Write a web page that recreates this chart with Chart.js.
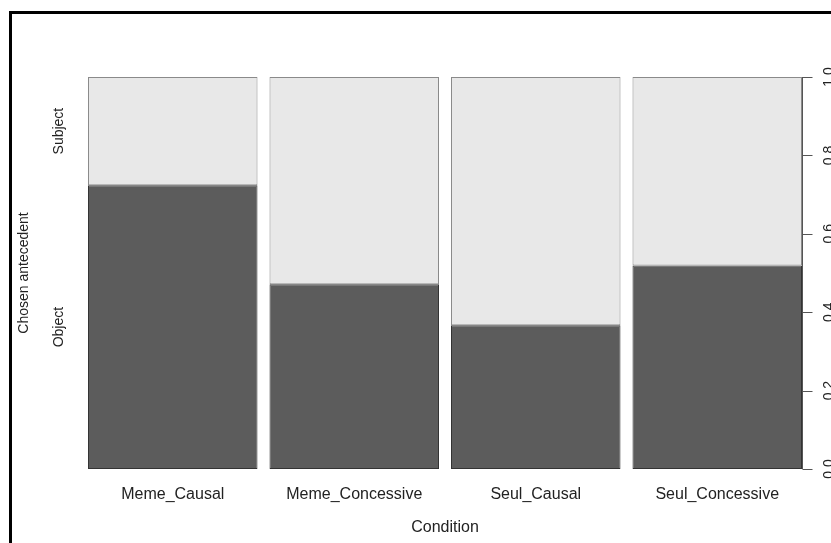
<!DOCTYPE html>
<html>
<head>
<meta charset="utf-8">
<title>Chosen antecedent by condition</title>
<script src="https://cdn.jsdelivr.net/npm/chart.js@4.4.1/dist/chart.umd.min.js"></script>
<style>
    html, body { margin: 0; padding: 0; background: #fff; }
    #wrap { width: 831px; height: 543px; position: relative; }
</style>
</head>
<body>
<div id="wrap"><canvas id="chart" width="831" height="543"></canvas></div>
<script>
// spineplot: share of each chosen antecedent per condition
const conditions = ["Meme_Causal", "Meme_Concessive", "Seul_Causal", "Seul_Concessive"];
const objectShare = [0.724, 0.471, 0.367, 0.519];
const subjectShare = [0.276, 0.529, 0.633, 0.481];
const levelNames = ["Object", "Subject"];
const yTicks = [0, 0.2, 0.4, 0.6, 0.8, 1.0];

const FONT = "'Liberation Sans', Arial, sans-serif";
const TEXT = "#222";
const AXIS = "#555";

// frame, right axis and rotated labels (R style)
const rAxisPlugin = {
    id: "rAxis",
    beforeDraw(chart) {
        const ctx = chart.ctx;
        ctx.save();
        ctx.fillStyle = "#000";
        ctx.fillRect(9, 11, 3, chart.height);
        ctx.fillRect(9, 11, chart.width, 3);
        ctx.restore();
    },
    afterDraw(chart) {
        const ctx = chart.ctx;
        const y = chart.scales.y;
        const bars = chart.getDatasetMeta(0).data;
        const last = bars[bars.length - 1];
        const xr = Math.round(last.x + last.width / 2) + 0.5;

        ctx.save();
        ctx.strokeStyle = AXIS;
        ctx.lineWidth = 1;
        ctx.beginPath();
        ctx.moveTo(xr, y.getPixelForValue(0));
        ctx.lineTo(xr, y.getPixelForValue(1));
        yTicks.forEach(v => {
            const py = Math.round(y.getPixelForValue(v)) + 0.5;
            ctx.moveTo(xr, py);
            ctx.lineTo(xr + 10, py);
        });
        ctx.stroke();

        ctx.fillStyle = TEXT;
        ctx.font = "14px " + FONT;
        ctx.textAlign = "center";
        ctx.textBaseline = "top";
        yTicks.forEach(v => {
            ctx.save();
            ctx.translate(xr + 20, y.getPixelForValue(v));
            ctx.rotate(-Math.PI / 2);
            ctx.fillText(v.toFixed(1), 0, 0);
            ctx.restore();
        });

        // level names, centred on the first bar's segments
        const first = bars[0];
        const x0 = first.x - first.width / 2;
        const objMid = y.getPixelForValue(objectShare[0] / 2);
        const subMid = y.getPixelForValue(objectShare[0] + subjectShare[0] / 2);
        ctx.textBaseline = "middle";
        [[levelNames[0], objMid], [levelNames[1], subMid]].forEach(([t, py]) => {
            ctx.save();
            ctx.translate(x0 - 29, py);
            ctx.rotate(-Math.PI / 2);
            ctx.fillText(t, 0, 0);
            ctx.restore();
        });

        ctx.save();
        ctx.translate(24, (y.top + y.bottom) / 2);
        ctx.rotate(-Math.PI / 2);
        ctx.fillText("Chosen antecedent", 0, 0);
        ctx.restore();
        ctx.restore();
    }
};

new Chart(document.getElementById("chart"), {
    type: "bar",
    data: {
        labels: conditions,
        datasets: [
            {
                label: levelNames[0],
                data: objectShare,
                backgroundColor: "#5c5c5c",
                borderColor: "#333",
                borderWidth: 1,
                borderSkipped: false,
                barPercentage: 0.934,
                categoryPercentage: 1,
            },
            {
                label: levelNames[1],
                data: subjectShare,
                backgroundColor: "#e8e8e8",
                borderColor: "#8a8a8a",
                borderWidth: 1,
                borderSkipped: false,
                barPercentage: 0.934,
                categoryPercentage: 1,
            },
        ],
    },
    options: {
        responsive: false,
        animation: false,
        layout: { padding: { left: 82, right: 23, top: 77, bottom: 0 } },
        plugins: {
            legend: { display: false },
            tooltip: { enabled: false },
        },
        scales: {
            x: {
                stacked: true,
                grid: { display: false },
                border: { display: false },
                ticks: {
                    padding: 8,
                    maxRotation: 0,
                    color: TEXT,
                    font: { family: FONT, size: 16 },
                },
                title: {
                    display: true,
                    text: "Condition",
                    color: TEXT,
                    padding: { top: 0, bottom: 6 },
                    font: { family: FONT, size: 16 },
                },
                afterFit(scale) {
                    scale.height = 74;
                },
            },
            y: {
                stacked: true,
                display: false,
                min: 0,
                max: 1,
            },
        },
    },
    plugins: [rAxisPlugin],
});
</script>
</body>
</html>
